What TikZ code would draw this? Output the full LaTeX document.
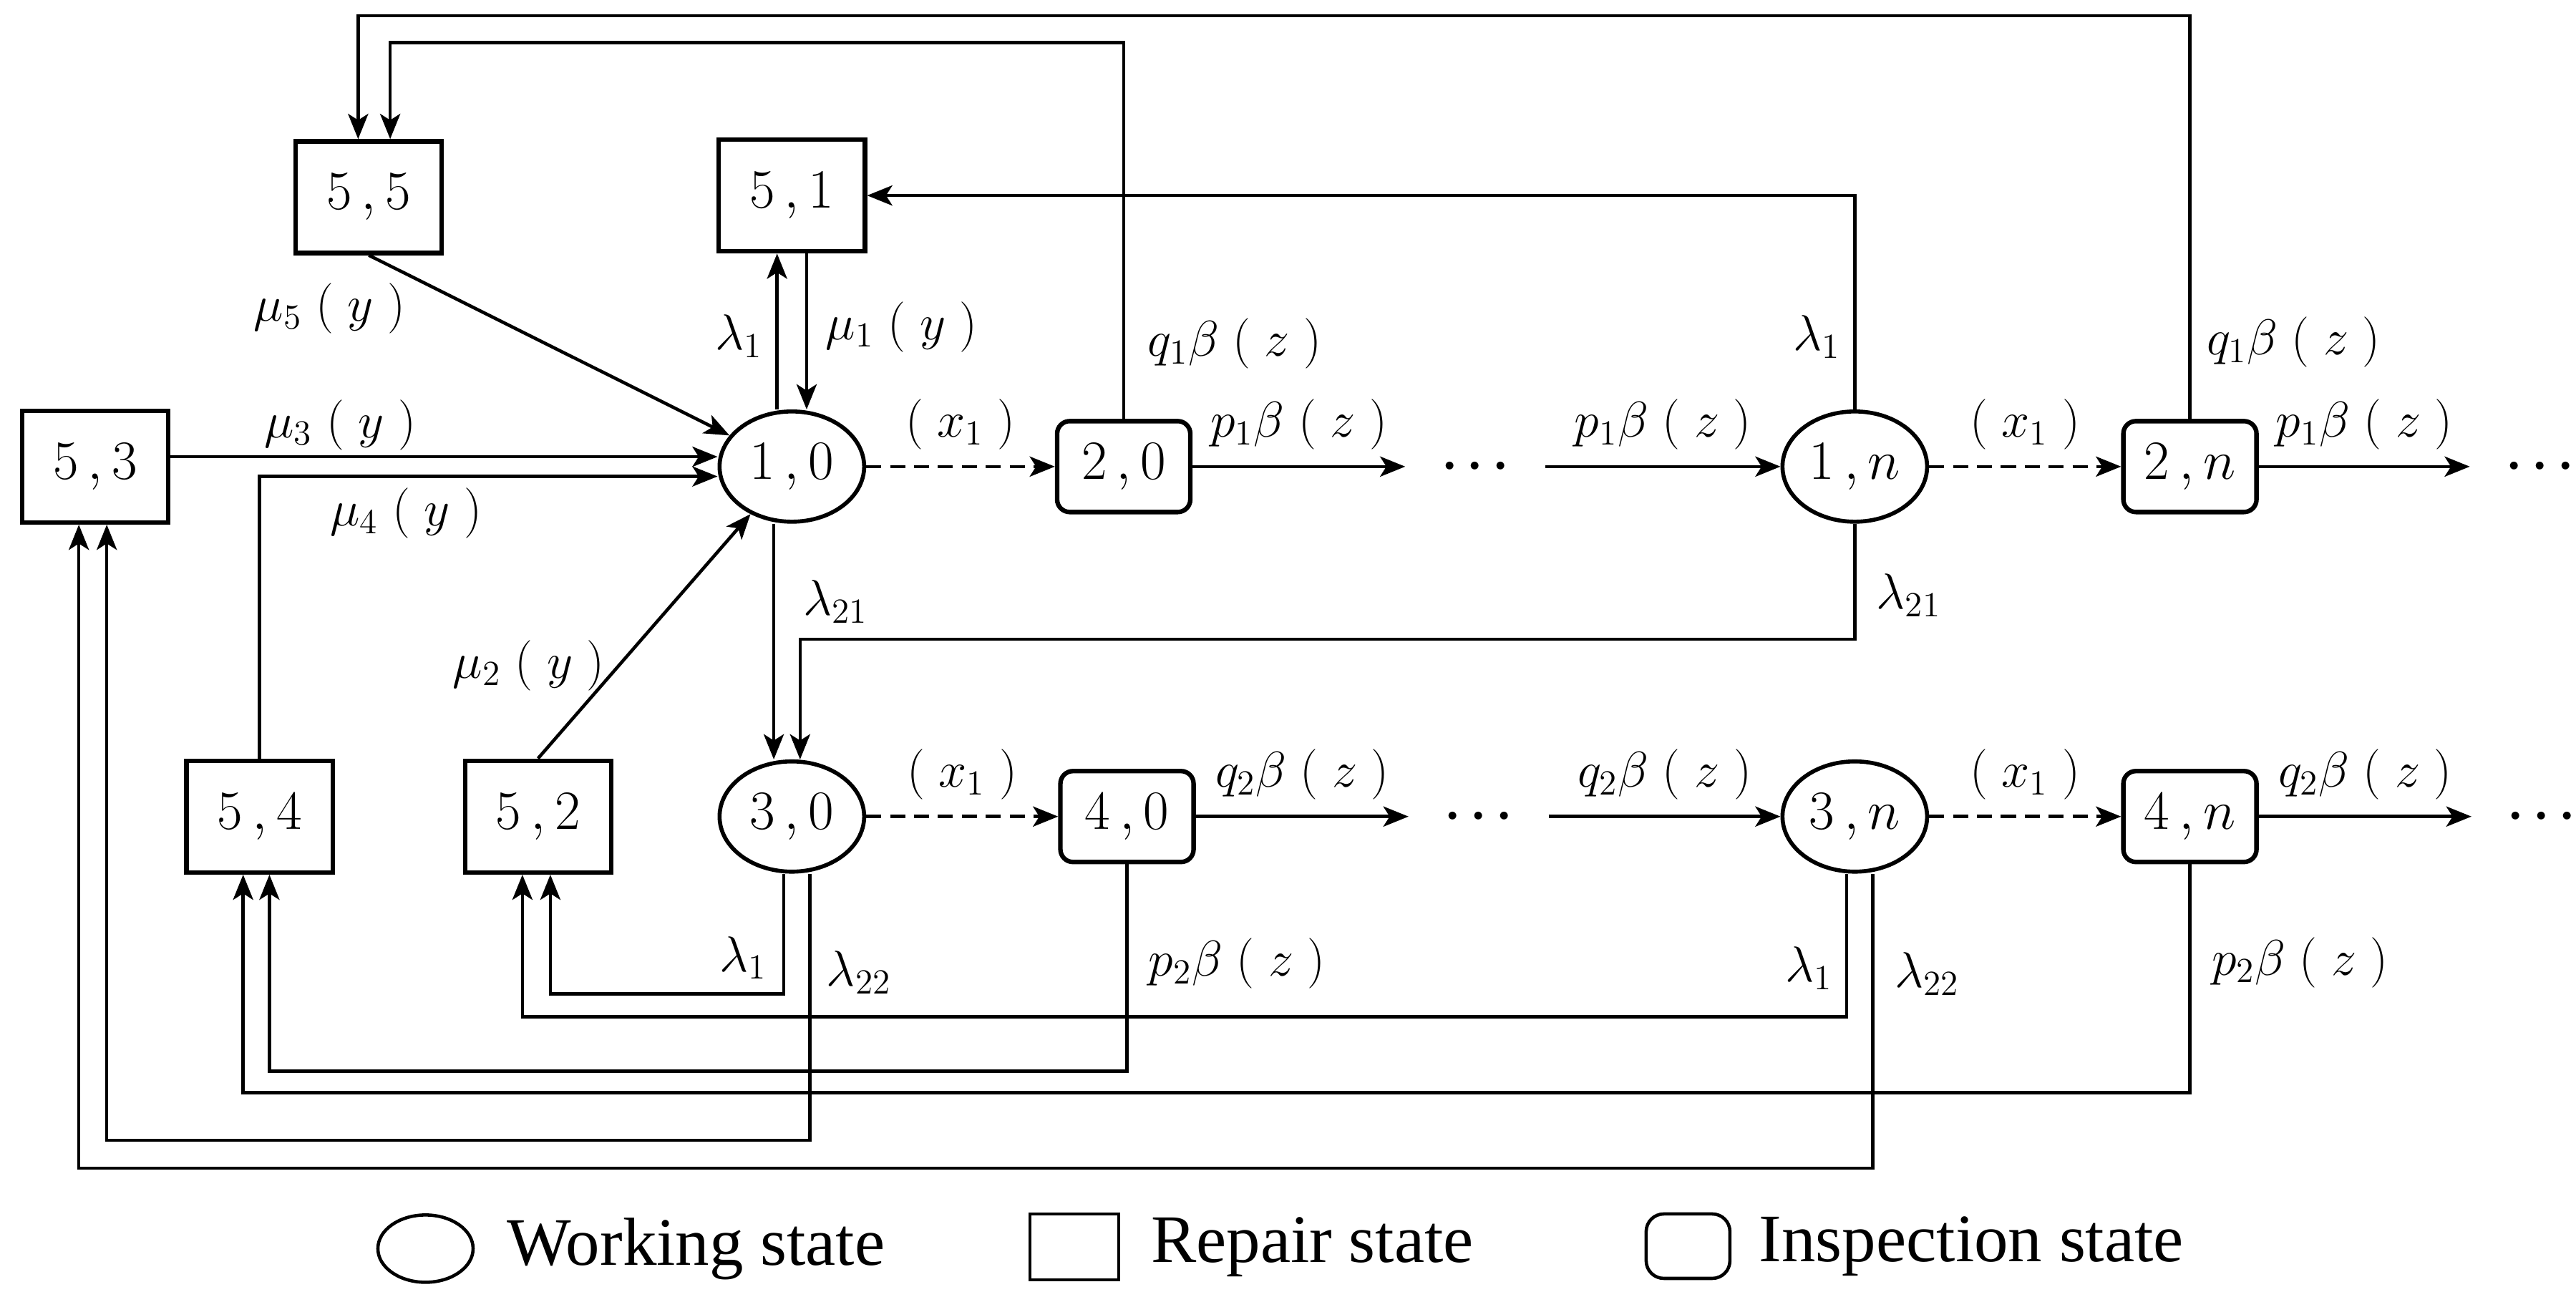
\documentclass[tikz,border=0pt]{standalone}
\usepackage{fix-cm}
\usepackage{fontspec}
\newfontfamily\legendfont{Liberation Serif}
\usepackage{tikz}
\usetikzlibrary{shapes.geometric, arrows.meta, positioning}
\newdimen\pu \pu=0.022953cm
\newcommand{\statefont}{\fontsize{22}{26}\selectfont}
\newcommand{\labfont}{\fontsize{20}{24}\selectfont}

\begin{document}
\begin{tikzpicture}[
    x=0.022953cm, y=-0.022953cm,
    work/.style={ellipse, draw, line width=1.6pt, minimum width=2.02cm, minimum height=1.54cm, inner sep=0pt, font=\statefont},
    repair/.style={rectangle, draw, line width=1.8pt, minimum width=2.04cm, minimum height=1.56cm, inner sep=0pt, font=\statefont},
    inspect/.style={rectangle, rounded corners=5pt, draw, line width=1.8pt, minimum width=1.86cm, minimum height=1.27cm, inner sep=0pt, font=\statefont},
    arr/.style={-{Stealth[length=10pt, width=8pt, inset=2.5pt]}, line width=1.3pt},
    dasharr/.style={arr, dash pattern=on 6pt off 3.5pt},
    lab/.style={font=\labfont, inner sep=2pt},
    dots/.style={font=\labfont\boldmath, inner xsep=0.5cm, inner ysep=0pt},
    keytext/.style={font={\legendfont\fontsize{27}{30}\selectfont}, inner sep=0pt}
]
\useasboundingbox (0,0) rectangle (1568,786);

% repair states
\node[repair] (n55) at (224.5,120) {$5\,{,}\,5$};
\node[repair] (n51) at (482,119) {$5\,{,}\,1$};
\node[repair] (n53) at (58,284) {$5\,{,}\,3$};
\node[repair] (n54) at (158,497) {$5\,{,}\,4$};
\node[repair] (n52) at (327.5,497) {$5\,{,}\,2$};

% working states
\node[work] (n10) at (482,284) {$1\,{,}\,0$};
\node[work] (n1n) at (1129,284) {$1\,{,}\,n$};
\node[work] (n30) at (482,497) {$3\,{,}\,0$};
\node[work] (n3n) at (1129,497) {$3\,{,}\,n$};

% inspection states
\node[inspect] (n20) at (684,284) {$2\,{,}\,0$};
\node[inspect] (n2n) at (1333,284) {$2\,{,}\,n$};
\node[inspect] (n40) at (686,497) {$4\,{,}\,0$};
\node[inspect] (n4n) at (1333,497) {$4\,{,}\,n$};

% dots
\node[dots] (d1) at (898,284) {$\cdots$};
\node[dots] (d2) at (1546,284) {$\cdots$};
\node[dots] (d3) at (900,497) {$\cdots$};
\node[dots] (d4) at (1547,497) {$\cdots$};

% corner points
\coordinate (t20) at (684,26);
\coordinate (t2n) at (1333,9.5);
\coordinate (c21) at (1129,389);
\coordinate (b1) at (477,605);
\coordinate (b2) at (1124,619);
\coordinate (b3) at (686,652);
\coordinate (b4) at (1333,665);
\coordinate (b5) at (493,694);
\coordinate (b6) at (1140,711);

% upper row
\draw[dasharr] (n10) -- node[lab, above=4pt] {$(\;x_1\;)$} (n20);
\draw[arr] (n20) -- node[lab, above=4pt] {$p_1\beta\;(\;z\;)$} (d1);
\draw[arr] (d1) -- node[lab, above=4pt] {$p_1\beta\;(\;z\;)$} (n1n);
\draw[dasharr] (n1n) -- node[lab, above=4pt] {$(\;x_1\;)$} (n2n);
\draw[arr] (n2n) -- node[lab, above=4pt] {$p_1\beta\;(\;z\;)$} (d2);

% lower row
\draw[dasharr] (n30) -- node[lab, above=4pt] {$(\;x_1\;)$} (n40);
\draw[arr] (n40) -- node[lab, above=4pt] {$q_2\beta\;(\;z\;)$} (d3);
\draw[arr] (d3) -- node[lab, above=4pt] {$q_2\beta\;(\;z\;)$} (n3n);
\draw[dasharr] (n3n) -- node[lab, above=4pt] {$(\;x_1\;)$} (n4n);
\draw[arr] (n4n) -- node[lab, above=4pt] {$q_2\beta\;(\;z\;)$} (d4);

% repairs back to 1,0
\draw[arr] (n55.south) -- node[lab, pos=.12, anchor=north east] {$\mu_5\;(\;y\;)$} (n10);
\draw[arr] ([yshift=6\pu]n53.east) -- node[lab, pos=.31, above] {$\mu_3\;(\;y\;)$} ([yshift=6\pu]n10.west);
\draw[arr] (n54.north) |- node[lab, pos=.66, below=2pt] {$\mu_4\;(\;y\;)$} ([yshift=-6\pu]n10.west);
\draw[arr] (n52.north) -- node[lab, pos=.38, left=3pt] {$\mu_2\;(\;y\;)$} (n10);
\draw[arr] ([xshift=9\pu]n51.south) -- node[lab, pos=.47, right=5pt] {$\mu_1\;(\;y\;)$} ([xshift=9\pu]n10.north);

% failures to 5,1
\draw[arr] ([xshift=-9\pu]n10.north) -- node[lab, pos=.47, left=3pt] {$\lambda_1$} ([xshift=-9\pu]n51.south);
\draw[arr] (n1n.north) |- node[lab, pos=.17, left=3pt] {$\lambda_1$} (n51.east);

% inspections to 5,5
\draw[arr] (n20.north) -- node[lab, pos=.2, right=7pt] {$q_1\beta\;(\;z\;)$} (t20) -| ([xshift=13\pu]n55.north);
\draw[arr] (n2n.north) -- node[lab, pos=.19, right=4pt] {$q_1\beta\;(\;z\;)$} (t2n) -| ([xshift=-6.5\pu]n55.north);

% degradation to 3,0
\draw[arr] ([xshift=-11\pu]n10.south) -- node[lab, pos=.33, right=9pt] {$\lambda_{21}$} ([xshift=-11\pu]n30.north);
\draw[arr] (n1n.south) -- node[lab, pos=.62, right=6pt] {$\lambda_{21}$} (c21) -| ([xshift=5\pu]n30.north);

% lower loops
\draw[arr] ([xshift=-5\pu]n30.south) -- node[lab, pos=.7, left=4pt] {$\lambda_1$} (b1) -| ([xshift=7.5\pu]n52.south);
\draw[arr] ([xshift=-5\pu]n3n.south) -- node[lab, pos=.66, left=3pt] {$\lambda_1$} (b2) -| ([xshift=-9.5\pu]n52.south);
\draw[arr] (n40.south) -- node[lab, pos=.48, right=6pt] {$p_2\beta\;(\;z\;)$} (b3) -| ([xshift=6\pu]n54.south);
\draw[arr] (n4n.south) -- node[lab, pos=.43, right=6pt] {$p_2\beta\;(\;z\;)$} (b4) -| ([xshift=-10\pu]n54.south);
\draw[arr] ([xshift=11\pu]n30.south) -- node[lab, pos=.37, right=4pt] {$\lambda_{22}$} (b5) -| ([xshift=7\pu]n53.south);
\draw[arr] ([xshift=11\pu]n3n.south) -- node[lab, pos=.34, right=6pt] {$\lambda_{22}$} (b6) -| ([xshift=-10\pu]n53.south);

% legend
\node[work, line width=1.3pt, minimum width=1.33cm, minimum height=0.94cm] (keywork) at (259,760) {};
\node[keytext, right=0.45cm of keywork] (keyworktxt) {Working state};
\node[repair, line width=1.3pt, minimum width=1.24cm, minimum height=0.92cm] (keyrepair) at (654,759) {};
\node[keytext, right=0.42cm of keyrepair] (keyrepairtxt) {Repair state};
\node[inspect, line width=1.3pt, rounded corners=7pt, minimum width=1.17cm, minimum height=0.9cm] (keyinsp) at (1027.5,758.5) {};
\node[keytext, right=0.38cm of keyinsp] (keyinsptxt) {Inspection state};
\end{tikzpicture}
\end{document}
